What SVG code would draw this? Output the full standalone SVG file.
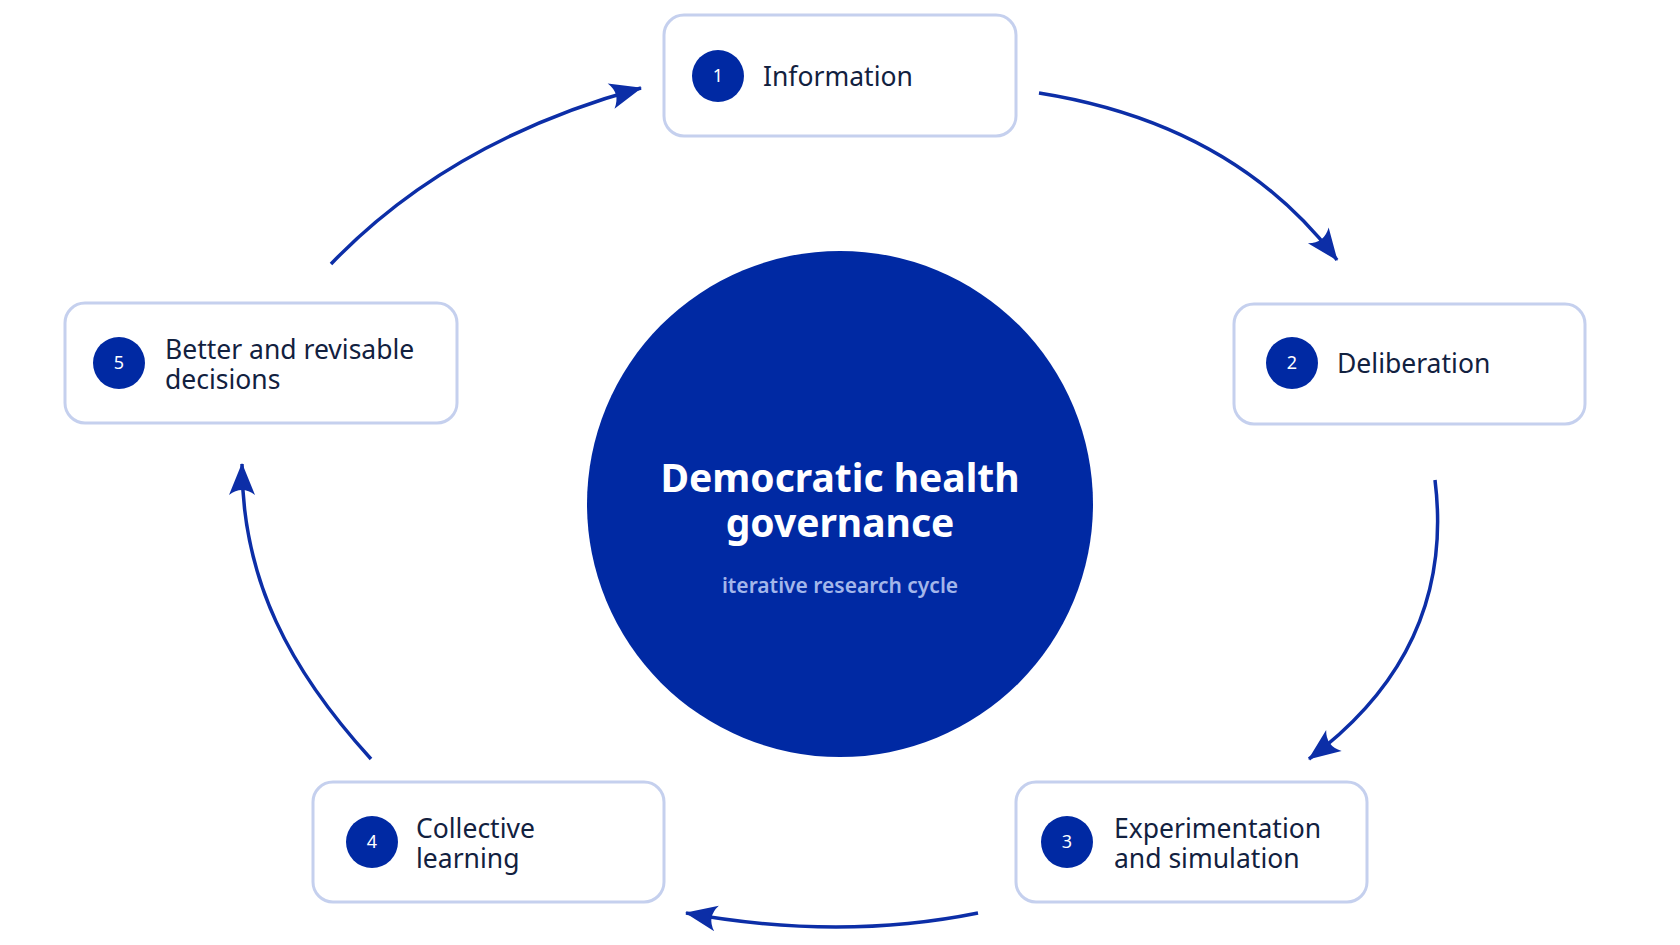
<svg xmlns="http://www.w3.org/2000/svg" width="1680" height="945" viewBox="0 0 1680 945">
<style>
.box{fill:#ffffff;stroke:#c5d0ee;stroke-width:3}
.badge{fill:#0029a3}
.num{fill:#ffffff;font-family:"Noto Sans","Liberation Sans",sans-serif;font-size:18px;text-anchor:middle}
.lbl{fill:#12213f;font-family:"Noto Sans","Liberation Sans",sans-serif;font-size:26.5px}
.arr{fill:none;stroke:#0c2ea7;stroke-width:3.5;marker-end:url(#ah)}
.title{fill:#ffffff;font-family:"Noto Sans","Liberation Sans",sans-serif;font-size:39px;font-weight:700;text-anchor:middle}
.sub{fill:#a3b6ea;font-family:"Noto Sans","Liberation Sans",sans-serif;font-size:21px;font-weight:600;text-anchor:middle}
</style>
<defs>
<marker id="ah" viewBox="0 0 34 28" refX="32" refY="14" markerWidth="34" markerHeight="28" markerUnits="userSpaceOnUse" orient="auto">
<path d="M1,1 L33,14 L1,27 Q11,14 1,1 Z" fill="#0c2ea7"/>
</marker>
</defs>
<rect width="1680" height="945" fill="#ffffff"/>
<g id="center">
<circle cx="840" cy="504" r="253" fill="#0029a3"/>
<text class="title" x="840" y="492">Democratic health</text>
<text class="title" x="840" y="537">governance</text>
<text class="sub" x="840" y="593">iterative research cycle</text>
</g>
<g id="connectors">
<path class="arr" d="M1039,93 Q1234,124 1337,260"/>
<path class="arr" d="M1435,480 Q1456,650 1309,759"/>
<path class="arr" d="M978,913 Q840,941 686,913"/>
<path class="arr" d="M371,759 C290,670 242,580 242,464"/>
<path class="arr" d="M331,264 Q450,140 641,88"/>
</g>
<g id="node1">
<rect class="box" x="664" y="15" width="352" height="121" rx="20"/>
<circle class="badge" cx="718" cy="76" r="26"/>
<text class="num" x="718" y="82">1</text>
<text class="lbl" x="763" y="86">Information</text>
</g>
<g id="node2">
<rect class="box" x="1234" y="304" width="351" height="120" rx="20"/>
<circle class="badge" cx="1292" cy="363" r="26"/>
<text class="num" x="1292" y="369">2</text>
<text class="lbl" x="1337" y="373">Deliberation</text>
</g>
<g id="node3">
<rect class="box" x="1016" y="782" width="351" height="120" rx="20"/>
<circle class="badge" cx="1067" cy="842" r="26"/>
<text class="num" x="1067" y="848">3</text>
<text class="lbl" x="1114" y="838">Experimentation</text>
<text class="lbl" x="1114" y="868">and simulation</text>
</g>
<g id="node4">
<rect class="box" x="313" y="782" width="351" height="120" rx="20"/>
<circle class="badge" cx="372" cy="842" r="26"/>
<text class="num" x="372" y="848">4</text>
<text class="lbl" x="416" y="838">Collective</text>
<text class="lbl" x="416" y="868">learning</text>
</g>
<g id="node5">
<rect class="box" x="65" y="303" width="392" height="120" rx="20"/>
<circle class="badge" cx="119" cy="363" r="26"/>
<text class="num" x="119" y="369">5</text>
<text class="lbl" x="165" y="359">Better and revisable</text>
<text class="lbl" x="165" y="389">decisions</text>
</g>
</svg>
